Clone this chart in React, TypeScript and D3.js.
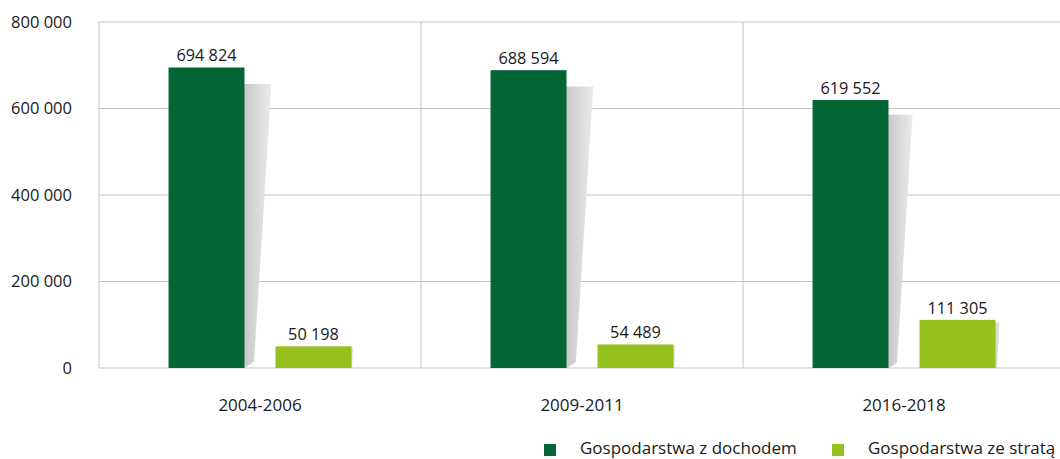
import React from "react";
import * as d3 from "d3";

const categories = ["2004-2006", "2009-2011", "2016-2018"];
const seriesNames = ["Gospodarstwa z dochodem", "Gospodarstwa ze stratą"];
const incomeValues = [694824, 688594, 619552];
const lossValues = [50198, 54489, 111305];
const yTicks = [0, 200000, 400000, 600000, 800000];
const colors = ["#056635", "#95c11f"];

const W = 1060;
const H = 459;
const M = { left: 99, right: 1065, top: 22, bottom: 368 };
const FONT = "'Open Sans', 'DejaVu Sans', sans-serif";

const fmt = (v: number) => {
  const s = String(Math.round(v));
  return s.replace(/\B(?=(\d{3})+(?!\d))/g, " ");
};

export default function App() {
  const x = d3.scaleBand<string>().domain(categories).range([M.left, M.right]).paddingInner(0).paddingOuter(0);
  const xi = d3
    .scaleBand<string>()
    .domain(seriesNames)
    .range([0, x.bandwidth()])
    .paddingInner(0.29)
    .paddingOuter(0.65);
  const y = d3.scaleLinear().domain([0, 800000]).range([M.bottom, M.top]);
  const seriesValues = [incomeValues, lossValues];

  const bars: any[] = [];
  categories.forEach((c, ci) => {
    seriesNames.forEach((s, si) => {
      const v = seriesValues[si][ci];
      const x0 = (x(c) as number) + (xi(s) as number);
      const bw = xi.bandwidth();
      const yt = y(v);
      bars.push({ key: c + s, x0, bw, yt, v, color: colors[si] });
    });
  });

  return (
    <div style={{ position: "absolute", left: 0, top: 0 }}>
      <svg width={W} height={H} style={{ display: "block" }}>
        <defs>
          <linearGradient id="shadowGrad" x1="0" y1="0" x2="1" y2="0">
            <stop offset="0%" stopColor="#c6c6c6" />
            <stop offset="100%" stopColor="#ebebeb" />
          </linearGradient>
        </defs>
        <rect width={W} height={H} fill="#fff" />
        {/* gridlines */}
        {yTicks.map((t) => (
          <line key={t} x1={M.left} x2={W} y1={y(t)} y2={y(t)} stroke="#c4c4c4" strokeWidth={1} />
        ))}
        {/* vertical separators */}
        {[M.left, ...categories.slice(1).map((c) => x(c) as number)].map((xx, i) => (
          <line key={i} x1={xx} x2={xx} y1={M.top} y2={M.bottom} stroke="#c4c4c4" strokeWidth={1} />
        ))}
        {/* y labels */}
        {yTicks.map((t) => (
          <text
            key={t}
            x={72}
            y={y(t)}
            dy="0.35em"
            textAnchor="end"
            fontFamily={FONT}
            fontSize={16.5}
            fill="#1a1a1a"
          >
            {fmt(t)}
          </text>
        ))}
        {/* shadows */}
        {bars.map((b) => {
          const h = M.bottom - b.yt;
          const dx = h * 0.09;
          const ht = M.bottom - h * 0.945;
          const pts = [
            [b.x0 + b.bw, M.bottom],
            [b.x0 + b.bw + dx * 0.35, M.bottom - h * 0.02],
            [b.x0 + b.bw + dx, ht],
            [b.x0 + b.bw - 2, ht],
            [b.x0 + b.bw - 2, M.bottom],
          ];
          return <polygon key={"s" + b.key} points={pts.map((p) => p.join(",")).join(" ")} fill="url(#shadowGrad)" />;
        })}
        {/* bars */}
        {bars.map((b) => (
          <rect key={b.key} x={b.x0} y={b.yt} width={b.bw} height={M.bottom - b.yt} fill={b.color} />
        ))}
        {/* value labels */}
        {bars.map((b) => (
          <text
            key={"l" + b.key}
            x={b.x0 + b.bw / 2}
            y={b.yt - 6}
            textAnchor="middle"
            fontFamily={FONT}
            fontSize={16.3}
            fill="#1a1a1a"
          >
            {fmt(b.v)}
          </text>
        ))}
        {/* x labels */}
        {categories.map((c) => (
          <text
            key={c}
            x={(x(c) as number) + x.bandwidth() / 2}
            y={405}
            dy="0.35em"
            textAnchor="middle"
            fontFamily={FONT}
            fontSize={17}
            fill="#1a1a1a"
          >
            {c}
          </text>
        ))}
        {/* legend */}
        {seriesNames.map((s, i) => {
          const lx = 544 + i * 288;
          return (
            <g key={s}>
              <rect x={lx} y={444} width={12} height={12} fill={colors[i]} />
              <text x={lx + 36} y={454} fontFamily={FONT} fontSize={17} fill="#1a1a1a">
                {s}
              </text>
            </g>
          );
        })}
      </svg>
    </div>
  );
}
